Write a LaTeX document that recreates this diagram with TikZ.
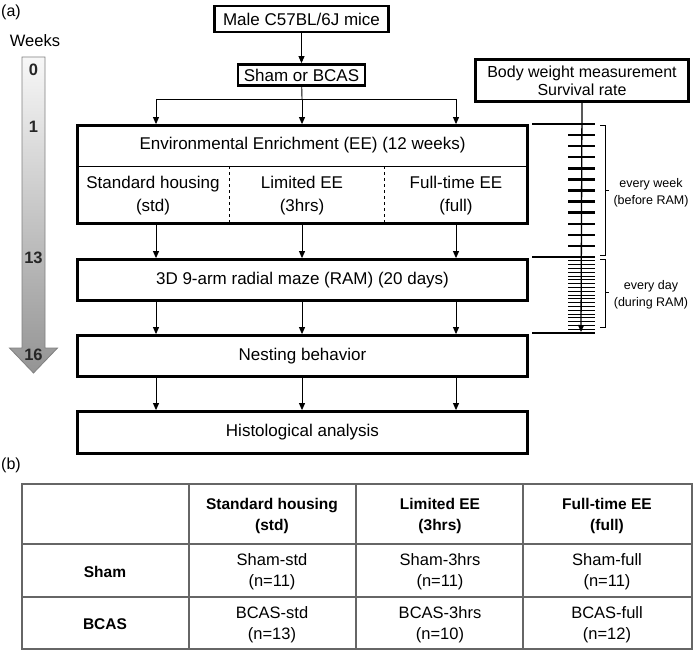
\documentclass[tikz,border=0pt]{standalone}
\usepackage{fontspec}
\setmainfont{Liberation Sans}
\usetikzlibrary{arrows.meta}

\begin{document}
\begin{tikzpicture}[x=1pt, y=-1pt,
    box/.style={draw, line width=2.8pt, inner sep=0pt, font=\fontsize{17}{20}\selectfont},
    cell/.style={inner sep=0pt, align=center, font=\fontsize{17}{23}\selectfont},
    arr/.style={-{Triangle[length=7pt,width=6pt]}, line width=0.9pt},
    wk/.style={inner sep=0pt, font=\fontsize{16.5}{16}\selectfont\bfseries, text=black!85},
    note/.style={inner sep=0pt, align=center, font=\fontsize{12.5}{17}\selectfont},
    grid/.style={draw=black!60, line width=1.4pt},
    tabtxt/.style={inner sep=0pt, align=center, font=\fontsize{16.5}{21}\selectfont}]
    \useasboundingbox (0,0) rectangle (700,658);

    % (a) 周数箭头
    \node (lbla) at (11,12) {\fontsize{16}{16}\selectfont (a)};
    \node (weeks) at (35,41) {\fontsize{16.5}{16}\selectfont Weeks};
    \path[draw=black!50, line width=0.8pt, top color=black!3, bottom color=black!42]
        (22,57) -- (45,57) -- (45,348) -- (57.5,348) -- (33.5,373) -- (9.5,348) -- (22,348) -- cycle;
    \node[wk] (w0) at (33.5,70) {0};
    \node[wk] (w1) at (33.5,127) {1};
    \node[wk] (w13) at (33.5,258) {13};
    \node[wk] (w16) at (33.5,355) {16};

    % 流程框
    \node[box, minimum width=174pt, minimum height=26pt] (mice) at (301.5,19) {Male C57BL/6J mice};
    \node[box, minimum width=127pt, minimum height=21pt] (sham) at (301.5,75) {Sham or BCAS};
    \draw[arr] (mice) -- (sham);

    \node[box, minimum width=450pt, minimum height=98pt] (ee) at (302.5,174.5) {};
    \node[cell] (eetitle) at (302.5,145) {Environmental Enrichment (EE) (12 weeks)};
    \coordinate (sep) at (0,166);
    \draw[line width=0.8pt] (ee.west |- sep) -- (ee.east |- sep);
    \foreach \x in {229,384}
        \draw[dashed, line width=0.6pt] (\x,166) -- (\x,224);
    \node[cell] (std) at (153,196) {Standard housing\\(std)};
    \node[cell] (lim) at (302,196) {Limited EE\\(3hrs)};
    \node[cell] (full) at (456,196) {Full-time EE\\(full)};

    \node[box, minimum width=450pt, minimum height=41pt] (ram) at (302.5,280) {3D 9-arm radial maze (RAM) (20 days)};
    \node[box, minimum width=450pt, minimum height=41pt] (nest) at (302.5,356) {Nesting behavior};
    \node[box, minimum width=450pt, minimum height=42pt] (hist) at (302.5,432.5) {Histological analysis};

    % 三列箭头
    \coordinate (k1) at (156,0);
    \coordinate (k2) at (302,0);
    \coordinate (k3) at (456,0);
    \coordinate (split) at (302,99);
    \draw[line width=0.9pt] (sham) -- (split);
    \draw[line width=0.9pt] (k1 |- split) -- (k3 |- split);
    \foreach \k in {1,2,3} {
        \draw[arr] (k\k |- split) -- (k\k |- ee.north);
        \draw[arr] (k\k |- ee.south) -- (k\k |- ram.north);
        \draw[arr] (k\k |- ram.south) -- (k\k |- nest.north);
        \draw[arr] (k\k |- nest.south) -- (k\k |- hist.north);
    }

    % 体重测量时间轴
    \node[box, minimum width=213pt, minimum height=42pt, align=center,
          font=\fontsize{16}{18}\selectfont] (body) at (582,80.5) {Body weight measurement\\Survival rate};
    \foreach \y in {124,257,333}
        \draw[line width=2.6pt] (532,\y) -- (595,\y);
    \foreach \i in {1,...,11}
        \draw[line width=2.4pt] (568,{124+\i*11.08}) -- (595,{124+\i*11.08});
    \foreach \i in {1,...,19}
        \draw[line width=0.7pt] (568,{257+\i*3.8}) -- (595,{257+\i*3.8});
    \coordinate (tend) at (581,332);
    \draw[arr, line width=1.3pt] (body.south) -- (tend);

    \draw[line width=0.7pt] (600,125) -- (605,125) -- (605,255) -- (600,255);
    \draw[line width=0.7pt] (605,190) -- (609,190);
    \draw[line width=0.7pt] (600,259) -- (605,259) -- (605,327) -- (600,327);
    \draw[line width=0.7pt] (605,292) -- (609,292);
    \node[note] (nwk) at (651,193) {every week\\(before RAM)};
    \node[note] (nday) at (651,295) {every day\\(during RAM)};

    % (b) 分组表
    \node (lblb) at (11,465) {\fontsize{16}{16}\selectfont (b)};
    \draw[grid] (22,484) rectangle (692,649);
    \foreach \x in {189,356,523}
        \draw[grid] (\x,484) -- (\x,649);
    \foreach \y in {544,597}
        \draw[grid] (22,\y) -- (692,\y);

    \node[tabtxt, font=\fontsize{15.5}{21}\selectfont\bfseries] (h1) at (272,516) {Standard housing\\(std)};
    \node[tabtxt, font=\fontsize{15.5}{21}\selectfont\bfseries] (h2) at (440,516) {Limited EE\\(3hrs)};
    \node[tabtxt, font=\fontsize{15.5}{21}\selectfont\bfseries] (h3) at (607,516) {Full-time EE\\(full)};
    \node[tabtxt, font=\fontsize{15.5}{21}\selectfont\bfseries] (r1) at (105,572) {Sham};
    \node[tabtxt, font=\fontsize{15.5}{21}\selectfont\bfseries] (r2) at (105,624) {BCAS};
    \node[tabtxt] (c11) at (272,572) {Sham-std\\(n=11)};
    \node[tabtxt] (c12) at (440,572) {Sham-3hrs\\(n=11)};
    \node[tabtxt] (c13) at (607,572) {Sham-full\\(n=11)};
    \node[tabtxt] (c21) at (272,624.5) {BCAS-std\\(n=13)};
    \node[tabtxt] (c22) at (440,624.5) {BCAS-3hrs\\(n=10)};
    \node[tabtxt] (c23) at (607,624.5) {BCAS-full\\(n=12)};
\end{tikzpicture}
\end{document}
